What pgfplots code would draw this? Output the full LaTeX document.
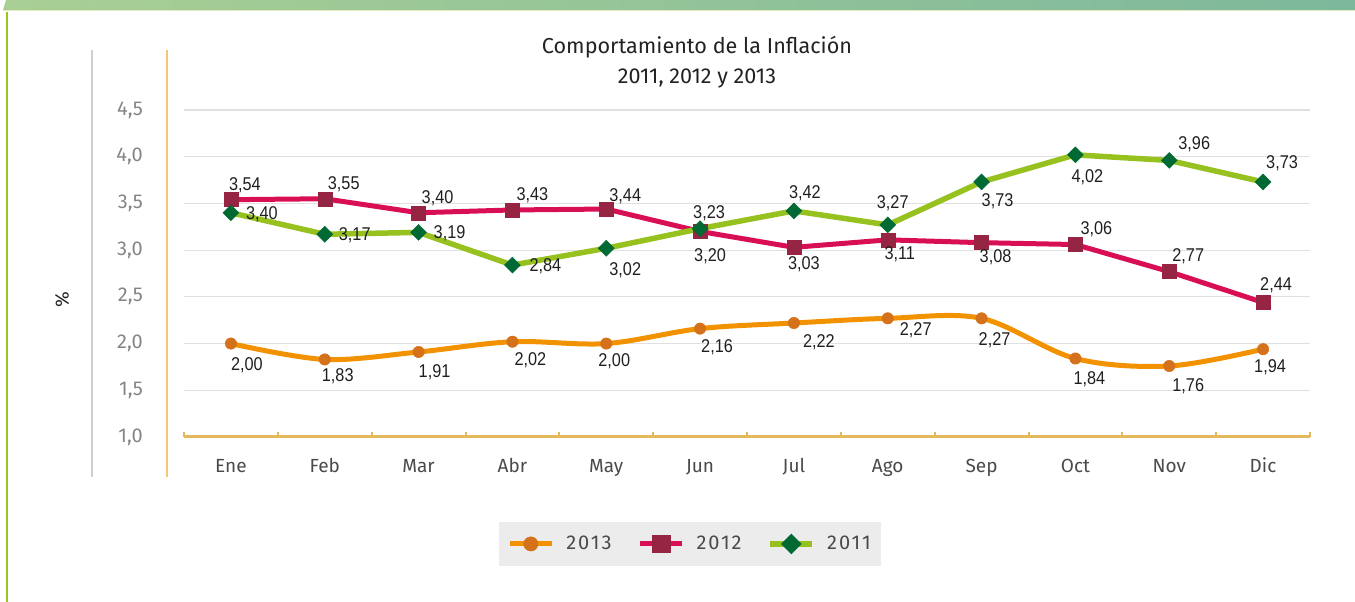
\documentclass[border=0pt]{standalone}
\usepackage{fontspec}
\setmainfont{Fira Sans}
\newfontfamily\lightfont{Fira Sans}
\newfontfamily\legfont[LetterSpace=10]{Fira Sans}
\newfontfamily\labfont[FakeStretch=0.88]{Liberation Sans}
\usepackage{pgfplots}
\usepackage{pgfplotstable}
\pgfplotsset{compat=1.18}

\definecolor{cOline}{HTML}{F39200}
\definecolor{cOmark}{HTML}{D4711A}
\definecolor{cRline}{HTML}{D80F55}
\definecolor{cRmark}{HTML}{952542}
\definecolor{cGline}{HTML}{96C11E}
\definecolor{cGmark}{HTML}{006934}
\definecolor{legendbg}{HTML}{ECECEC}
\definecolor{gridgray}{HTML}{E0E0E0}
\definecolor{axistan}{HTML}{E5B85C}
\definecolor{tickgray}{HTML}{858585}
\definecolor{textdark}{HTML}{4A4A4A}
\definecolor{titletext}{HTML}{222222}
\definecolor{gradL}{HTML}{A9CF94}
\definecolor{gradM}{HTML}{CEE091}
\definecolor{gradR}{HTML}{7DB89C}
\definecolor{leftgreen}{HTML}{9DC31F}
\definecolor{decogray}{HTML}{CFCFCF}
\definecolor{decoorange}{HTML}{F3C874}

% x y label dx dy (dx right, dy up, in pt)
\pgfplotstableread{
x y lab dx dy
0 2.00 2,00 16 -22
1 1.83 1,83 13 -17
2 1.91 1,91 16 -20
3 2.02 2,02 18 -19
4 2.00 2,00 8 -18
5 2.16 2,16 17 -19
6 2.22 2,22 25 -19
7 2.27 2,27 28 -12
8 2.27 2,27 13 -22
9 1.84 1,84 14 -21
10 1.76 1,76 19 -20
11 1.94 1,94 7 -18
}\dataO

\pgfplotstableread{
x y lab dx dy
0 3.54 3,54 14 14
1 3.55 3,55 19 15
2 3.40 3,40 19 15
3 3.43 3,43 20 15
4 3.44 3,44 19 13
5 3.20 3,20 10 -25
6 3.03 3,03 10 -17
7 3.11 3,11 12 -14
8 3.08 3,08 14 -15
9 3.06 3,06 21 15
10 2.77 2,77 19 15
11 2.44 2,44 13 17
}\dataR

\pgfplotstableread{
x y lab dx dy
0 3.40 3,40 31 -1
1 3.17 3,17 30 -1
2 3.19 3,19 31 -1
3 2.84 2,84 33 -1
4 3.02 3,02 19 -22
5 3.23 3,23 9 15
6 3.42 3,42 11 18
7 3.27 3,27 5 22
8 3.73 3,73 16 -19
9 4.02 4,02 12 -22
10 3.96 3,96 25 16
11 3.73 3,73 19 19
}\dataG

\begin{document}
\begin{tikzpicture}
\useasboundingbox (0pt,0pt) rectangle (1355pt,602pt);
% decorations
\shade[left color=gradL, middle color=gradM, right color=gradR]
  (3pt,592pt) -- (1355pt,592pt) -- (1355pt,602pt) -- (6pt,602pt) -- cycle;
\draw[color=gradM!60, line width=1pt] (3pt,591pt) -- (1355pt,591pt);
\draw[color=leftgreen, line width=2.5pt] (7pt,0pt) -- (7pt,590pt);
\draw[color=decogray, line width=1.5pt] (92pt,125pt) -- (92pt,552pt);
\draw[color=decoorange, line width=1.5pt] (167pt,125pt) -- (167pt,552pt);

\begin{axis}[
  at={(184pt,165pt)}, anchor=south west,
  scale only axis, width=1126pt, height=327pt,
  xmin=-0.5, xmax=11.5, ymin=1, ymax=4.5,
  clip=false,
  axis x line*=bottom, axis y line*=left,
  y axis line style={draw=none},
  x axis line style={draw=axistan, line width=3pt, -},
  xtick={0,...,11},
  xticklabels={Ene,Feb,Mar,Abr,May,Jun,Jul,Ago,Sep,Oct,Nov,Dic},
  xtick style={draw=none},
  xticklabel style={anchor=base, yshift=-36pt, font=\lightfont\fontsize{19}{19}\selectfont, text=textdark},
  extra x ticks={-0.5,0.5,...,11.5},
  extra x tick labels={},
  extra x tick style={grid=none, tick align=inside, major tick length=5pt,
     xtick style={draw=axistan, line width=2pt}},
  ytick={1,1.5,...,4.5},
  ytick style={draw=none},
  ymajorgrids,
  grid style={draw=gridgray, line width=1.2pt},
  /pgf/number format/assume math mode=true,
  yticklabel={\pgfmathprintnumber[fixed,fixed zerofill,precision=1,use comma]{\tick}},
  yticklabel style={anchor=east, inner sep=0pt, xshift=-41pt, font=\lightfont\fontsize{20}{20}\selectfont, text=tickgray},
  ylabel={\%},
  ylabel style={at={(-0.1083,0.419)}, anchor=center, font=\lightfont\fontsize{19}{19}\selectfont, text=titletext},
  title={Comportamiento de la Inflación\\2011, 2012 y 2013},
  title style={at={(0.4556,1.128)}, anchor=center, align=center, font=\fontsize{21.6}{30}\selectfont, text=titletext},
  legend columns=3,
  legend style={at={(0.4494,-0.327)}, anchor=center, draw=none, fill=legendbg,
     font=\legfont\fontsize{20}{20}\selectfont, text=textdark,
     inner xsep=8pt, inner ysep=12pt,
     /tikz/every odd column/.append style={column sep=10pt},
     /tikz/every even column/.append style={column sep=24pt}},
  legend image code/.code={\draw[mark repeat=2, mark phase=2, #1, every mark/.append style={scale=1.25}] plot coordinates {(0pt,0pt) (21pt,0pt) (42pt,0pt)};},
  nodes near coords,
  point meta=explicit symbolic,
  visualization depends on={\thisrow{dx} \as \dx},
  visualization depends on={\thisrow{dy} \as \dy},
  every node near coord/.append style={anchor=center, inner sep=0pt, xshift=\dx pt, yshift=\dy pt, font=\labfont\fontsize{18.5}{18.5}\selectfont, text=black!88},
]
\addplot[color=cOline, line width=5pt, smooth, tension=0.55, mark=*, mark size=5.7pt,
   mark options={solid, fill=cOmark, draw=cOmark, line width=0.5pt}]
   table[x=x, y=y, meta=lab] {\dataO};
\addlegendentry{2013}
\addplot[color=cRline, line width=5pt, mark=square*, mark size=7pt,
   mark options={solid, fill=cRmark, draw=cRmark, line width=0.5pt}]
   table[x=x, y=y, meta=lab] {\dataR};
\addlegendentry{2012}
\addplot[color=cGline, line width=5.5pt, mark=square*, mark size=5.6pt,
   mark options={solid, fill=cGmark, draw=cGmark, line width=0.5pt, rotate=45}]
   table[x=x, y=y, meta=lab] {\dataG};
\addlegendentry{2011}
\end{axis}
\end{tikzpicture}
\end{document}
